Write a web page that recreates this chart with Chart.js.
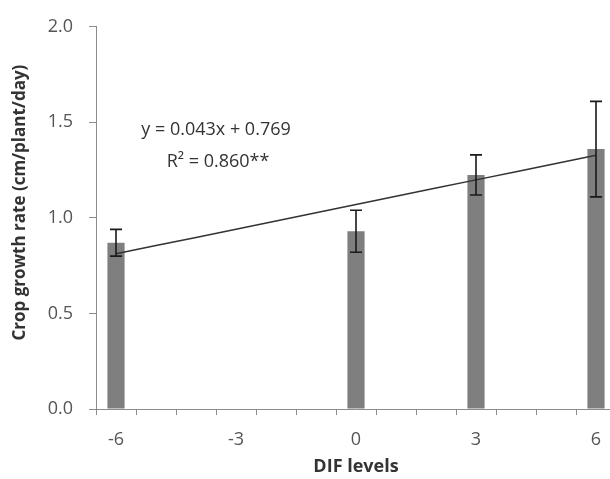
<!DOCTYPE html>
<html>
<head>
<meta charset="utf-8">
<title>Crop growth rate vs DIF</title>
<script src="https://cdn.jsdelivr.net/npm/chart.js@4.4.1/dist/chart.umd.min.js"></script>
<style>
    html, body { margin: 0; padding: 0; background: #fff; overflow: hidden; }
    #wrap { width: 610px; height: 479px; overflow: hidden; }
</style>
</head>
<body>
<div id="wrap">
    <canvas id="cgrChart" width="626" height="479"></canvas>
</div>
<script>
// DIF levels on the x axis (every integer step is a category)
const difLevels = ['-6', '-5', '-4', '-3', '-2', '-1', '0', '1', '2', '3', '4', '5', '6'];
const tickShown = ['-6', '-3', '0', '3', '6'];

// measured treatments
const barLevels = ['-6', '0', '3', '6'];
const growthRate = [0.87, 0.93, 1.225, 1.36];
const growthErr = [0.07, 0.11, 0.105, 0.25];

// fitted regression (x = category index 1..13)
const slope = 0.043;
const intercept = 0.769;
const eqText = 'y = 0.043x + 0.769';
const r2Text = 'R\u00B2 = 0.860**';

const yTicks = [0, 0.5, 1.0, 1.5, 2.0];
const yTitle = 'Crop growth rate (cm/plant/day)';

const trendValues = difLevels.map((lvl, i) => slope * (i + 1) + intercept);

const FONT = '"Open Sans", sans-serif';

// error bars over each bar
const errorBars = {
    id: 'errorBars',
    afterDatasetsDraw(chart) {
        const meta = chart.getDatasetMeta(0);
        const y = chart.scales.y;
        const ctx = chart.ctx;
        ctx.save();
        ctx.strokeStyle = '#1a1a1a';
        ctx.lineWidth = 1.6;
        meta.data.forEach((bar, i) => {
            const top = y.getPixelForValue(growthRate[i] + growthErr[i]);
            const bot = y.getPixelForValue(growthRate[i] - growthErr[i]);
            const cap = 6;
            ctx.beginPath();
            ctx.moveTo(bar.x, top);
            ctx.lineTo(bar.x, bot);
            ctx.moveTo(bar.x - cap, top);
            ctx.lineTo(bar.x + cap, top);
            ctx.moveTo(bar.x - cap, bot);
            ctx.lineTo(bar.x + cap, bot);
            ctx.stroke();
        });
        ctx.restore();
    }
};

// regression equation and the y axis title
const textLayer = {
    id: 'textLayer',
    afterDraw(chart) {
        const { x, y } = chart.scales;
        const ctx = chart.ctx;
        const px = x.getPixelForValue(2.5);
        ctx.save();
        ctx.font = '18px ' + FONT;
        ctx.fillStyle = '#333';
        ctx.textAlign = 'center';
        ctx.textBaseline = 'middle';
        ctx.fillText(eqText, px, y.getPixelForValue(1.46));
        ctx.fillText(r2Text, px + 2, y.getPixelForValue(1.295));

        ctx.translate(20, y.getPixelForValue(1.08));
        ctx.rotate(-Math.PI / 2);
        ctx.font = 'bold 17px ' + FONT;
        ctx.fillText(yTitle, 0, 0);
        ctx.restore();
    }
};

const ctx = document.getElementById('cgrChart').getContext('2d');

new Chart(ctx, {
    data: {
        labels: difLevels,
        datasets: [{
            type: 'bar',
            label: 'Crop growth rate',
            data: barLevels.map((lvl, i) => ({ x: lvl, y: growthRate[i] })),
            backgroundColor: '#7f7f7f',
            borderWidth: 0,
            barPercentage: 0.43,
            categoryPercentage: 1,
            order: 1,
        }, {
            type: 'line',
            label: 'Linear fit',
            data: trendValues,
            borderColor: '#333',
            borderWidth: 1.5,
            pointRadius: 0,
            fill: false,
            order: 0,
        }],
    },
    options: {
        responsive: false,
        animation: false,
        devicePixelRatio: 1,
        layout: { padding: { top: 20, right: 10, left: 0, bottom: 0 } },
        plugins: {
            legend: { display: false },
            tooltip: { enabled: false },
        },
        scales: {
            x: {
                type: 'category',
                offset: true,
                grid: {
                    offset: true,
                    drawOnChartArea: false,
                    tickLength: 6,
                    color: '#8c8c8c',
                },
                border: { display: true, color: '#8c8c8c' },
                ticks: {
                    autoSkip: false,
                    maxRotation: 0,
                    padding: 14,
                    color: '#555',
                    font: { family: FONT, size: 18 },
                    callback: function (value) {
                        const lbl = this.getLabelForValue(value);
                        return tickShown.includes(lbl) ? lbl : '';
                    },
                },
                title: {
                    display: true,
                    text: 'DIF levels',
                    color: '#333',
                    font: { family: FONT, size: 18, weight: 'bold' },
                    padding: { top: 0, bottom: 1 },
                },
                afterFit: (scale) => { scale.height = 70; },
            },
            y: {
                min: 0,
                max: 2,
                afterBuildTicks: (scale) => {
                    scale.ticks = yTicks.map((v) => ({ value: v }));
                },
                grid: {
                    drawOnChartArea: false,
                    tickLength: 7,
                    color: '#8c8c8c',
                },
                border: { display: true, color: '#8c8c8c' },
                ticks: {
                    padding: 16,
                    color: '#555',
                    font: { family: FONT, size: 18 },
                    callback: (v) => Number(v).toFixed(1),
                },
                afterFit: (scale) => { scale.width = 96; },
            },
        },
    },
    plugins: [errorBars, textLayer],
});
</script>
</body>
</html>
